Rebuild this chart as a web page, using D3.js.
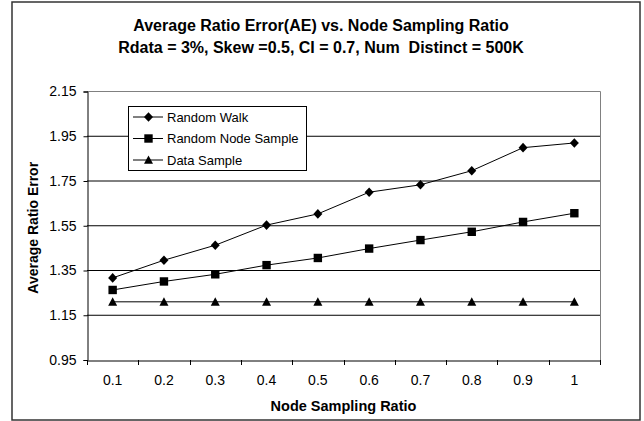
<!DOCTYPE html>
<html><head><meta charset="utf-8">
<script src="https://cdn.jsdelivr.net/npm/d3@7"></script>
<style>body{margin:0;background:#fff;font-family:"Liberation Sans",Arial,sans-serif} text{white-space:pre}</style>
</head><body><svg id="c" width="644" height="421"></svg>
<script>
const categories = ["0.1","0.2","0.3","0.4","0.5","0.6","0.7","0.8","0.9","1"];
const randomWalk = [1.317,1.396,1.463,1.553,1.603,1.700,1.733,1.796,1.899,1.920];
const randomNodeSample = [1.263,1.301,1.333,1.374,1.406,1.448,1.486,1.523,1.567,1.606];
const dataSample = [1.21,1.21,1.21,1.21,1.21,1.21,1.21,1.21,1.21,1.21];
const yTicks = [0.95,1.15,1.35,1.55,1.75,1.95,2.15];
const seriesNames = ["Random Walk","Random Node Sample","Data Sample"];
const titleLines = ["Average Ratio Error(AE) vs. Node Sampling Ratio","Rdata = 3%, Skew =0.5, CI = 0.7, Num  Distinct = 500K"];

const svg = d3.select("#c");
const m = {l:87, r:600, t:91.5, b:360};
svg.append("rect").attr("x",12).attr("y",2).attr("width",628).attr("height",418)
  .attr("fill","#fff").attr("stroke","#333").attr("stroke-width",1.5);

const x = d3.scaleBand().domain(categories).range([m.l,m.r]);
const y = d3.scaleLinear().domain([0.95,2.15]).range([m.b,m.t]);

// gridlines
svg.append("g").selectAll("line").data(yTicks.slice(1,-1)).join("line")
  .attr("x1",m.l).attr("x2",m.r).attr("y1",d=>y(d)).attr("y2",d=>y(d))
  .attr("stroke","#000").attr("stroke-width",1);
// plot border top/right
svg.append("path").attr("d",`M${m.l},${m.t}H${m.r+0.5}V${m.b}`).attr("fill","none").attr("stroke","#808080");

// axes
const ya = svg.append("g").attr("transform",`translate(${m.l+0.5},0)`)
  .call(d3.axisLeft(y).tickValues(yTicks).tickFormat(d3.format(".2f")).tickSizeOuter(0).tickSize(4).tickPadding(7));
const xa = svg.append("g").attr("transform",`translate(0,${m.b+0.5})`)
  .call(d3.axisBottom(x).tickSize(0).tickPadding(15));
// ticks between categories
svg.append("g").selectAll("line").data(d3.range(categories.length+1)).join("line")
  .attr("x1",i=>Math.round(m.l+i*x.step())+0.5).attr("x2",i=>Math.round(m.l+i*x.step())+0.5)
  .attr("y1",m.b).attr("y2",m.b+5).attr("stroke","#000");
[ya,xa].forEach(a=>{a.selectAll("text").attr("font-size",14).attr("font-family","Liberation Sans, Arial").attr("fill","#000");
  a.selectAll(".domain,line").attr("stroke","#000");});

// series
const cx = c => x(c)+x.bandwidth()/2;
const line = d3.line().x((d,i)=>cx(categories[i])).y(d=>y(d));
const series = [randomWalk, randomNodeSample, dataSample];
function marker(g,k,px,py){
  if(k===0){g.append("path").attr("d",`M${px},${py-4.8}L${px+4.5},${py}L${px},${py+4.8}L${px-4.5},${py}Z`).attr("fill","#000");}
  else if(k===1){g.append("rect").attr("x",px-4.2).attr("y",py-4.2).attr("width",8.4).attr("height",8.4).attr("fill","#000");}
  else {g.append("path").attr("d",`M${px},${py-4.5}L${px+4.5},${py+3.8}L${px-4.5},${py+3.8}Z`).attr("fill","#000");}
}
series.forEach((s,k)=>{
  svg.append("path").datum(s).attr("d",line).attr("fill","none").attr("stroke","#000").attr("stroke-width",1);
  const g = svg.append("g");
  s.forEach((v,i)=>marker(g,k,cx(categories[i]),y(v)));
});

// legend
const lg = svg.append("g");
lg.append("rect").attr("x",128.5).attr("y",106.5).attr("width",178).attr("height",64).attr("fill","#fff").attr("stroke","#000");
seriesNames.forEach((n,k)=>{
  const ly = 117 + k*21.5;
  lg.append("line").attr("x1",133).attr("x2",163).attr("y1",ly).attr("y2",ly).attr("stroke","#000");
  marker(lg,k,148.5,ly);
  lg.append("text").attr("x",167).attr("y",ly+4.5).attr("font-size",13).text(n);
});

// titles
svg.selectAll(".tt").data(titleLines).join("text").attr("x",321).attr("y",(d,i)=>31+i*21.6)
  .attr("text-anchor","middle").attr("font-weight","bold").attr("font-size",16).text(d=>d);
svg.append("text").attr("x",(m.l+m.r)/2).attr("y",411).attr("text-anchor","middle")
  .attr("font-weight","bold").attr("font-size",14.5).text("Node Sampling Ratio");
svg.append("text").attr("transform",`translate(38,${(m.t+m.b)/2+2}) rotate(-90)`).attr("text-anchor","middle")
  .attr("font-weight","bold").attr("font-size",14).text("Average Ratio Error");
</script></body></html>
